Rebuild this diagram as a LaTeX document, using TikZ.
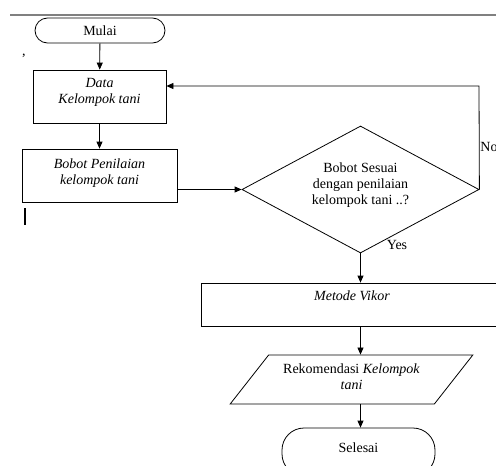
\documentclass[tikz,border=0pt]{standalone}
\usepackage{fontspec}
\setmainfont{Liberation Serif}
\usetikzlibrary{shapes.geometric,arrows.meta}

\begin{document}
\begin{tikzpicture}[x=1pt,y=-1pt,font=\fontsize{14}{16}\selectfont,line width=0.8pt,term/.style={draw,rectangle,rounded corners=#1,inner sep=0pt},proc/.style={draw,rectangle,inner sep=0pt,align=center},cond/.style={draw,diamond,shape aspect=1.9,inner sep=0pt,align=center,minimum width=237pt,minimum height=127pt},io/.style={draw,trapezium,trapezium left angle=45,trapezium right angle=135,trapezium stretches=true,inner sep=0pt,align=center},flow/.style={-{Triangle[length=7pt,width=6pt]}}]
\useasboundingbox (0,0) rectangle (496,466);
\clip (0,0) rectangle (496,466);
% page marks
\draw[gray,line width=1.5pt] (10,15) -- (496,15);
\node (koma) at (24,56) {,};
\draw[line width=1.6pt] (25,208) -- (25,225);
% flow chart
\node[term=12.5pt,minimum width=130pt,minimum height=25pt] (mulai) at (100,30.5) {Mulai};
\node[proc,minimum width=133pt,minimum height=53pt,text depth=11pt] (data) at (99.5,96.5) {\textit{Data}\\\textit{Kelompok tani}};
\node[proc,minimum width=155pt,minimum height=53pt,text depth=8pt] (bobot) at (99.5,175.5) {\textit{Bobot Penilaian}\\\textit{kelompok tani}};
\node[cond,text depth=12pt] (cek) at (360.5,189.5) {Bobot Sesuai\\dengan penilaian\\kelompok tani ..?};
\node[proc,minimum width=302pt,minimum height=43pt,text depth=18.5pt] (vikor) at (352,304.5) {\textit{Metode Vikor}};
\node[io,minimum width=243pt,minimum height=49pt,text depth=6pt] (rekom) at (351.5,379.5) {Rekomendasi \textit{Kelompok}\\\textit{tani}};
\node[term=22pt,minimum width=153pt,minimum height=48pt,text depth=9pt] (selesai) at (358.5,452) {Selesai};
\coordinate (balik) at (479,86);
\draw[flow] (mulai) -- (data);
\draw[flow] (data) -- (bobot);
\draw[flow] (cek.west -| bobot.east) -- (cek.west);
\draw[flow] (cek.east) -- (balik) -- (balik -| data.east);
\draw[flow] (cek.south) -- (cek.south |- vikor.north);
\draw[flow] (cek.south |- vikor.south) -- (cek.south |- rekom.north);
\draw[flow] (cek.south |- rekom.south) -- (cek.south |- selesai.north);
\node[anchor=west,inner sep=1pt] (no) at (479,147) {No};
\node (yes) at (397,245) {Yes};
\end{tikzpicture}
\end{document}
